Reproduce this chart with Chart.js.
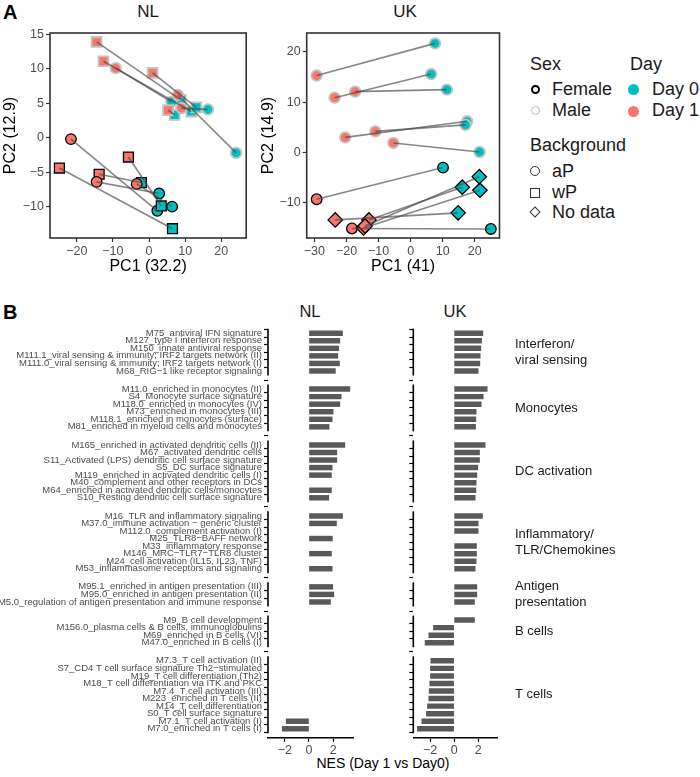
<!DOCTYPE html>
<html>
<head>
<meta charset="utf-8">
<script src="https://cdn.jsdelivr.net/npm/chart.js@4.4.1/dist/chart.umd.min.js"></script>
<style>
  body { margin: 0; width: 700px; height: 777px; position: relative; background: #fff; overflow: hidden;
         font-family: 'Liberation Sans', Arial, Helvetica, sans-serif; color: #1a1a1a; }
  .abs { position: absolute; }
  .letter { font-weight: bold; font-size: 20px; color: #000; }
  .ttl { font-size: 17px; text-align: center; width: 100px; line-height: 18px; }
  .lg { font-size: 18px; line-height: 20px; white-space: nowrap; }
  .sym { position: absolute; box-sizing: border-box; }
</style>
</head>
<body>
<div class="abs letter" style="left:3px;top:1px">A</div>
<div class="abs letter" style="left:3px;top:301px">B</div>

<div class="abs ttl" style="left:98px;top:3px">NL</div>
<div class="abs ttl" style="left:355px;top:3px">UK</div>
<div class="abs ttl" style="left:260px;top:302px;font-size:16.5px">NL</div>
<div class="abs ttl" style="left:405px;top:302px;font-size:16.5px">UK</div>
<div class="abs" style="left:283px;top:755px;width:200px;text-align:center;font-size:14px;color:#000">NES (Day 1 vs Day0)</div>

<div class="abs" style="left:0;top:0"><canvas id="nlPca" width="255" height="280"></canvas></div>
<div class="abs" style="left:258px;top:0"><canvas id="ukPca" width="250" height="280"></canvas></div>
<div class="abs" style="left:0;top:300px"><canvas id="nlNes" width="360" height="470"></canvas></div>
<div class="abs" style="left:370px;top:300px"><canvas id="ukNes" width="330" height="470"></canvas></div>

<!-- legend -->
<div class="abs lg" style="left:530px;top:54px">Sex</div>
<div class="abs lg" style="left:630px;top:54px">Day</div>
<div class="sym" style="left:531px;top:85px;width:9px;height:9px;border:2px solid #000;border-radius:50%"></div>
<div class="abs lg" style="left:552px;top:79px">Female</div>
<div class="sym" style="left:531px;top:106px;width:9px;height:9px;border:1.5px solid #bdbdbd;border-radius:50%"></div>
<div class="abs lg" style="left:552px;top:100px">Male</div>
<div class="sym" style="left:628px;top:84px;width:11px;height:11px;background:#00BFC4;border-radius:50%"></div>
<div class="abs lg" style="left:652px;top:79px">Day 0</div>
<div class="sym" style="left:628px;top:106px;width:11px;height:11px;background:#F8766D;border-radius:50%"></div>
<div class="abs lg" style="left:652px;top:100px">Day 1</div>
<div class="abs lg" style="left:530px;top:135px">Background</div>
<div class="sym" style="left:530px;top:166px;width:10px;height:10px;border:1px solid #333;border-radius:50%"></div>
<div class="abs lg" style="left:552px;top:161px">aP</div>
<div class="sym" style="left:530px;top:188px;width:10px;height:10px;border:1px solid #333"></div>
<div class="abs lg" style="left:552px;top:182px">wP</div>
<div class="sym" style="left:531px;top:208px;width:8px;height:8px;border:1px solid #333;transform:rotate(45deg)"></div>
<div class="abs lg" style="left:552px;top:202px">No data</div>

<script>
// ---- panel A: PCA, one entry per individual (day 1 -> day 0) ----
const nlSex        = ['M','M','M','M','M','M','M','F','F','F','F','F','F']
const nlBackground = ['wP','wP','wP','wP','aP','aP','aP','aP','wP','wP','wP','aP','aP']
const nlDay1X = [-14.5, -12.6, 1.0, 5.3, -9.2, 8.0, 9.0, -21.6, -5.7, -24.8, -13.8, -14.5, -3.4]
const nlDay1Y = [13.9, 11.1, 9.4, 4.0, 10.1, 6.2, 4.3, -0.2, -2.8, -4.4, -5.3, -6.4, -6.7]
const nlDay0X = [8.8, 11.7, 13.1, 7.1, 6.2, 24.1, 16.3, 2.3, 3.4, 6.5, -2.1, 2.8, 6.4]
const nlDay0Y = [5.5, 3.8, 4.4, 3.3, 5.2, -2.2, 4.1, -10.6, -9.9, -13.2, -6.5, -8.1, -10.0]

const ukSex        = ['M','M','M','M','M','M','F','F','F','F','F','F']
const ukBackground = ['aP','aP','aP','aP','aP','aP','aP','aP','none','none','none','none']
const ukDay1X = [-29.3, -23.7, -17.3, -20.4, -11.0, -5.4, -29.3, -18.3, -23.5, -13.0, -14.7, -14.2]
const ukDay1Y = [15.3, 10.9, 12.1, 3.0, 4.2, 1.9, -9.3, -15.1, -13.4, -13.4, -15.0, -14.6]
const ukDay0X = [7.6, 6.4, 11.3, 17.6, 17.1, 21.5, 10.1, 25.0, 14.8, 16.1, 21.6, 21.4]
const ukDay0Y = [21.7, 15.6, 12.5, 6.2, 5.5, 0.1, -3.0, -15.2, -12.0, -6.9, -7.5, -4.8]

// ---- panel B: NES per module ----
const groupNames = ['Interferon/\nviral sensing', 'Monocytes', 'DC activation',
  'Inflammatory/\nTLR/Chemokines', 'Antigen\npresentation', 'B cells', 'T cells']
const groupSizes = [6, 6, 8, 8, 3, 4, 10]
const moduleNames = [
  'M75_antiviral IFN signature', 'M127_type I interferon response', 'M150_innate antiviral response',
  'M111.1_viral sensing & immunity; IRF2 targets network (II)', 'M111.0_viral sensing & immunity; IRF2 targets network (I)',
  'M68_RIG\u22121 like receptor signaling',
  'M11.0_enriched in monocytes (II)', 'S4_Monocyte surface signature', 'M118.0_enriched in monocytes (IV)',
  'M73_enriched in monocytes (III)', 'M118.1_enriched in monocytes (surface)', 'M81_enriched in myeloid cells and monocytes',
  'M165_enriched in activated dendritic cells (II)', 'M67_activated dendritic cells',
  'S11_Activated (LPS) dendritic cell surface signature', 'S5_DC surface signature',
  'M119_enriched in activated dendritic cells (I)', 'M40_complement and other receptors in DCs',
  'M64_enriched in activated dendritic cells/monocytes', 'S10_Resting dendritic cell surface signature',
  'M16_TLR and inflammatory signaling', 'M37.0_immune activation \u2212 generic cluster', 'M112.0_complement activation (I)',
  'M25_TLR8\u2212BAFF network', 'M33_inflammatory response', 'M146_MRC\u2212TLR7\u2212TLR8 cluster',
  'M24_cell activation (IL15, IL23, TNF)', 'M53_inflammasome receptors and signaling',
  'M95.1_enriched in antigen presentation (III)', 'M95.0_enriched in antigen presentation (II)',
  'M5.0_regulation of antigen presentation and immune response',
  'M9_B cell development', 'M156.0_plasma cells & B cells, immunoglobulins', 'M69_enriched in B cells (VI)',
  'M47.0_enriched in B cells (I)',
  'M7.3_T cell activation (II)', 'S7_CD4 T cell surface signature Th2\u2212stimulated', 'M19_T cell differentiation (Th2)',
  'M18_T cell differentiation via ITK and PKC', 'M7.4_T cell activation (III)', 'M223_enriched in T cells (II)',
  'M14_T cell differentiation', 'S0_T cell surface signature', 'M7.1_T cell activation (I)', 'M7.0_enriched in T cells (I)'
]
const nesNL = [2.78, 2.56, 2.47, 2.39, 2.53, 2.19,
  3.39, 2.67, 2.56, 2.0, 1.92, 1.67,
  2.97, 2.31, 2.31, 1.92, 1.86, null, 1.86, 1.64,
  2.78, 2.28, null, 1.94, null, 1.86, null, 1.92,
  1.97, 2.06, 1.78,
  null, null, null, null,
  null, null, null, null, null, null, null, null, -1.89, -2.22]
const nesUK = [2.39, 2.28, 2.22, 2.17, 2.14, 2.0,
  2.75, 2.42, 2.25, 1.83, 1.81, 1.78,
  2.58, 2.11, 2.11, 1.97, 1.89, 1.83, 1.81, 1.75,
  2.36, 2.0, 2.0, null, 1.86, 1.86, 1.83, 1.75,
  1.89, 1.89, 1.69,
  1.69, -1.72, -2.11, -2.42,
  -1.94, -1.97, -1.97, -2.03, -2.08, -2.11, -2.22, -2.31, -2.69, -3.06]
const nesTicks = [-2, 0, 2]

const FONT = "'Liberation Sans', Arial, Helvetica, sans-serif"
Chart.defaults.font.family = FONT
Chart.defaults.color = '#4d4d4d'
Chart.defaults.animation = false

const TEAL = '#00BFC4', SALMON = '#F8766D'
const shapeStyle = { aP: 'circle', wP: 'rect', none: 'rectRot' }
const shapeRadius = { aP: 5.3, wP: 7, none: 7.2 }
const sexBorder = { F: '#000000', M: '#c4c4c4' }
const sexWidth = { F: 1.3, M: 1.8 }
const minus = v => String(v).replace('-', '\u2212')

const panelBox = {
  id: 'panelBox',
  beforeDatasetsDraw(chart) {
    const { ctx, chartArea: a } = chart
    ctx.save()
    ctx.strokeStyle = '#333'
    ctx.lineWidth = 1.6
    ctx.strokeRect(a.left, a.top, a.width, a.height)
    ctx.restore()
  }
}

const pcaChart = (id, sex, bg, d1x, d1y, d0x, d0y, o) => {
  const lines = d1x.map((_, i) => ({
    showLine: true, pointRadius: 0, borderColor: 'rgba(70,70,70,0.65)', borderWidth: 1.6,
    data: [{ x: d1x[i], y: d1y[i] }, { x: d0x[i], y: d0y[i] }]
  }))
  const dots = (xs, ys, col) => ({
    data: xs.map((x, i) => ({ x, y: ys[i] })),
    pointBackgroundColor: col,
    pointStyle: c => shapeStyle[bg[c.dataIndex]],
    pointRadius: c => shapeRadius[bg[c.dataIndex]],
    pointBorderColor: c => sexBorder[sex[c.dataIndex]],
    pointBorderWidth: c => sexWidth[sex[c.dataIndex]],
    showLine: false
  })
  const axis = (min, max, ticks, title, fit) => ({
    type: 'linear', min, max,
    afterBuildTicks: s => { s.ticks = ticks.map(v => ({ value: v })) },
    afterFit: fit,
    grid: { drawOnChartArea: false, tickLength: 4, tickColor: '#333', tickWidth: 1.2 },
    border: { display: false },
    ticks: { font: { size: 12.5 }, padding: 2, callback: minus, maxRotation: 0 },
    title: { display: true, text: title, color: '#000', font: { size: 16 }, padding: { top: 1, bottom: 4 } }
  })
  new Chart(document.getElementById(id), {
    type: 'scatter',
    data: { datasets: [...lines, dots(d1x, d1y, SALMON), dots(d0x, d0y, TEAL)] },
    options: {
      responsive: false,
      layout: { padding: { top: 33, right: o.padRight, left: 0, bottom: 0 } },
      plugins: { legend: { display: false }, tooltip: { enabled: false } },
      scales: {
        x: axis(o.x[0], o.x[1], o.xTicks, o.xTitle, s => { s.height = 42 }),
        y: axis(o.y[0], o.y[1], o.yTicks, o.yTitle, s => { s.width = o.yWidth })
      }
    },
    plugins: [panelBox]
  })
}

pcaChart('nlPca', nlSex, nlBackground, nlDay1X, nlDay1Y, nlDay0X, nlDay0Y, {
  x: [-27.4, 26.9], y: [-14.55, 15.2], xTicks: [-20, -10, 0, 10, 20], yTicks: [-10, -5, 0, 5, 10, 15],
  xTitle: 'PC1 (32.2)', yTitle: 'PC2 (12.9)', yWidth: 50, padRight: 8
})
pcaChart('ukPca', ukSex, ukBackground, ukDay1X, ukDay1Y, ukDay0X, ukDay0Y, {
  x: [-32.4, 27.7], y: [-17.0, 23.76], xTicks: [-30, -20, -10, 0, 10, 20], yTicks: [-10, 0, 10, 20],
  xTitle: 'PC1 (41)', yTitle: 'PC2 (14.9)', yWidth: 48.7, padRight: 5
})

// row positions: groups separated by a gap (in row units)
const GAP = 1.4
const rowPos = []
const groupSpan = []
let p = 0
groupSizes.forEach(n => {
  const first = p
  for (let i = 0; i < n; i++) rowPos.push(p++)
  groupSpan.push([first, p - 1])
  p += GAP
})
const lastPos = rowPos[rowPos.length - 1]

const groupAxes = {
  id: 'groupAxes',
  afterDraw(chart) {
    const { ctx, chartArea: a } = chart
    const y = chart.scales.y
    ctx.save()
    ctx.strokeStyle = '#000'
    ctx.lineWidth = 1.6
    groupSpan.forEach(([f, l]) => {
      ctx.beginPath()
      ctx.moveTo(a.left, y.getPixelForValue(f - 0.6))
      ctx.lineTo(a.left, y.getPixelForValue(l + 0.6))
      ctx.stroke()
    })
    ctx.restore()
  }
}

const stripLabels = {
  id: 'stripLabels',
  afterDraw(chart) {
    const { ctx, chartArea: a } = chart
    const y = chart.scales.y
    ctx.save()
    ctx.fillStyle = '#1a1a1a'
    ctx.font = '13px ' + FONT
    ctx.textAlign = 'left'
    ctx.textBaseline = 'middle'
    groupSpan.forEach(([f, l], g) => {
      const rows = groupNames[g].split('\n')
      const mid = y.getPixelForValue((f + l) / 2)
      rows.forEach((t, k) => ctx.fillText(t, a.right + 17, mid + (k - (rows.length - 1) / 2) * 16))
    })
    ctx.restore()
  }
}

const nesChart = (id, values, showLabels, yWidth, padRight, extra) => {
  const data = rowPos.map((pos, i) => ({ x: values[i], y: pos })).filter(d => d.x !== null)
  new Chart(document.getElementById(id), {
    type: 'bar',
    data: { datasets: [{ data, backgroundColor: '#595959', barThickness: 4.8 }] },
    options: {
      responsive: false,
      indexAxis: 'y',
      layout: { padding: { top: 24.1, right: padRight, left: 0, bottom: 0 } },
      plugins: { legend: { display: false }, tooltip: { enabled: false } },
      scales: {
        x: {
          type: 'linear', min: -3.4, max: 3.65,
          afterBuildTicks: s => { s.ticks = nesTicks.map(v => ({ value: v })) },
          afterFit: s => { s.height = 32.1 },
          grid: { drawOnChartArea: false, tickLength: 4, tickColor: '#000', tickWidth: 1.2 },
          border: { display: true, color: '#000', width: 1.6 },
          ticks: { font: { size: 12.5 }, padding: 1, callback: minus, maxRotation: 0 }
        },
        y: {
          type: 'linear', reverse: true, min: -0.6, max: lastPos + 0.6,
          afterBuildTicks: s => { s.ticks = rowPos.map(v => ({ value: v })) },
          afterFit: s => { s.width = yWidth },
          grid: { drawOnChartArea: false, tickLength: 4, tickColor: '#000', tickWidth: 1.2 },
          border: { display: false },
          ticks: { autoSkip: false, font: { size: 9.5 }, color: '#4d4d4d', padding: 2,
                   callback: (v, i) => showLabels ? moduleNames[i] : '' }
        }
      }
    },
    plugins: [groupAxes, ...extra]
  })
}

nesChart('nlNes', nesNL, true, 268, 7, [])
nesChart('ukNes', nesUK, false, 43.3, 202, [stripLabels])
</script>
</body>
</html>
